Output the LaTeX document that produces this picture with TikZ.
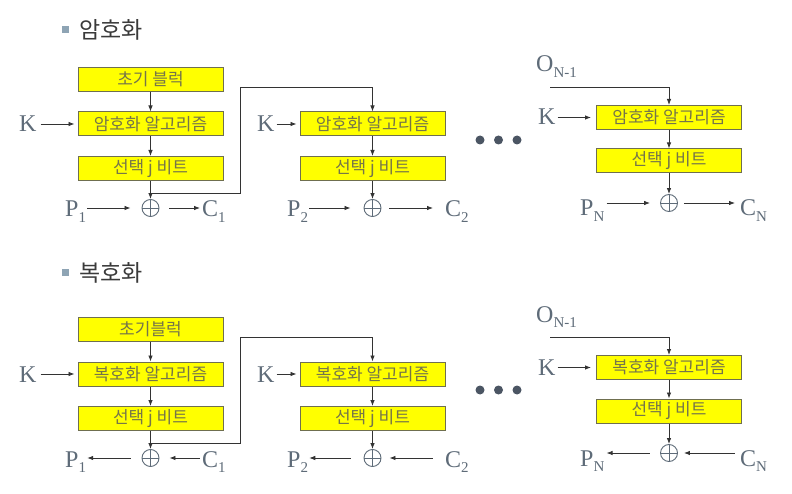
\documentclass[tikz,border=0pt]{standalone}
\usepackage{fontspec}
\setmainfont{Liberation Serif}
\newfontfamily\kofont{Noto Sans CJK KR}
\usetikzlibrary{arrows.meta, positioning, calc}

\newcommand\lowidx[1]{\raisebox{-0.5ex}{\fontsize{15}{15}\selectfont #1}}

\begin{document}
\begin{tikzpicture}[
    x=1pt, y=-1pt,
    every node/.style={inner sep=0pt},
    blk/.style={draw=boxline, fill=boxfill, line width=1pt,
        minimum width=145pt, minimum height=24pt,
        font=\kofont\fontsize{17}{17}\selectfont, text=boxtext},
    lbl/.style={font=\fontsize{24}{24}\selectfont, text=lettercolor, anchor=base west},
    xorn/.style={circle, draw=lettercolor, line width=0.9pt, minimum size=17pt,
        path picture={
            \draw[lettercolor, line width=0.9pt]
                (path picture bounding box.north) -- (path picture bounding box.south)
                (path picture bounding box.west) -- (path picture bounding box.east);
        }},
    arr/.style={-{Latex[length=6pt, width=4.5pt]}, line width=0.8pt, draw=arrowcolor},
    rarr/.style={{Latex[length=6pt, width=4.5pt]}-, line width=0.8pt, draw=arrowcolor},
    hd/.style={font=\kofont\fontsize{23}{23}\selectfont, text=headcolor, anchor=west},
    sq/.style={fill=bulletcolor, minimum size=7pt},
    dotn/.style={circle, fill=dotcolor, minimum size=9pt},
]

\definecolor{boxfill}{HTML}{FFFF00}   % the boxes
\definecolor{boxline}{HTML}{6F6F4F}
\definecolor{boxtext}{HTML}{75754A}
\definecolor{lettercolor}{HTML}{5E6B78}
\definecolor{arrowcolor}{HTML}{333333}
\definecolor{headcolor}{HTML}{3A3A3A}
\definecolor{bulletcolor}{HTML}{8EA4B4}
\definecolor{dotcolor}{HTML}{4B5563}

\useasboundingbox (0,0) rectangle (792,494);

% ================================================================
%   upper half: encryption, lower half: decryption (250 lower)
%   column 1 at x=150.5, column 2 at x=372.5, column N at x=669
% ================================================================

\foreach \s/\dy/\hy/\head/\init/\alg/\dir in {e/0/30/암호화/초기 블럭/암호화 알고리즘/arr,
                                             d/250/273/복호화/초기블럭/복호화 알고리즘/rarr} {

    % ---------------------------------------------------------------- heading
    \node[sq] (sq\s) at (65, \hy) {};
    \node[hd] (hd\s) at (79, \hy) {\head};

    % ---------------------------------------------------------------- column 1
    \node[blk] (init\s) at (150.5, 79.5+\dy) {\init};
    \node[blk] (alga\s) at (150.5, 124+\dy) {\alg};
    \node[blk] (sela\s) at (150.5, 168.5+\dy) {선택 j 비트};
    \node[xorn] (xa\s) at (150.5, 208+\dy) {};
    \node[lbl] (ka\s) at (19, 132+\dy) {K};
    \node[lbl] (pa\s) at (65, 217+\dy) {P\lowidx{1}};
    \node[lbl] (ca\s) at (202, 217+\dy) {C\lowidx{1}};

    \draw[arr] (init\s) -- (alga\s);
    \draw[arr] (alga\s) -- (sela\s);
    \draw[arr] (sela\s) -- (xa\s);
    \draw[arr, shorten <=4pt, shorten >=3pt] (ka\s.east |- alga\s) -- (alga\s.west);
    \draw[\dir, shorten <=1pt, shorten >=11pt] (pa\s.east |- xa\s) -- (xa\s.west);
    \draw[\dir, shorten <=10pt, shorten >=2pt] (xa\s.east) -- (ca\s.west |- xa\s);

    % ---------------------------------------------------------------- column 2
    \node[blk] (algb\s) at (372.5, 124+\dy) {\alg};
    \node[blk] (selb\s) at (372.5, 168.5+\dy) {선택 j 비트};
    \node[xorn] (xb\s) at (372.5, 208+\dy) {};
    \node[lbl] (kb\s) at (257, 132+\dy) {K};
    \node[lbl] (pb\s) at (287, 217+\dy) {P\lowidx{2}};
    \node[lbl] (cb\s) at (445, 217+\dy) {C\lowidx{2}};

    \draw[arr] (algb\s) -- (selb\s);
    \draw[arr] (selb\s) -- (xb\s);
    \draw[arr, shorten <=2pt, shorten >=3pt] (kb\s.east |- algb\s) -- (algb\s.west);
    \draw[\dir, shorten <=1pt, shorten >=13pt] (pb\s.east |- xb\s) -- (xb\s.west);
    \draw[\dir, shorten <=8pt, shorten >=12pt] (xb\s.east) -- (cb\s.west |- xb\s);

    % feedback from column 1 into column 2
    \coordinate (tap\s) at (150.5, 193+\dy);
    \coordinate (turn\s) at (240, 87+\dy);
    \draw[arr] (tap\s) -| (turn\s) -| (algb\s.north);

    % ---------------------------------------------------------------- dots
    \foreach \i in {0,1,2} {
        \node[dotn] (dot\s\i) at (480+18.5*\i, 140+\dy) {};
    }

    % ---------------------------------------------------------------- column N
    \node[blk] (algn\s) at (669, 117.5+\dy) {\alg};
    \node[blk] (seln\s) at (669, 161+\dy) {선택 j 비트};
    \node[xorn] (xn\s) at (669, 203+\dy) {};
    \node[lbl] (kn\s) at (538, 125+\dy) {K};
    \node[lbl] (on\s) at (536, 72+\dy) {O\lowidx{N-1}};
    \node[lbl] (pn\s) at (580, 216+\dy) {P\lowidx{N}};
    \node[lbl] (cn\s) at (740, 216+\dy) {C\lowidx{N}};

    \draw[arr] (algn\s) -- (seln\s);
    \draw[arr] (seln\s) -- (xn\s);
    \draw[arr, shorten <=2pt, shorten >=5pt] (kn\s.east |- algn\s) -- (algn\s.west);
    \draw[\dir, shorten <=2pt, shorten >=10pt] (pn\s.east |- xn\s) -- (xn\s.west);
    \draw[\dir, shorten <=6pt, shorten >=5pt] (xn\s.east) -- (cn\s.west |- xn\s);

    \coordinate (oin\s) at (550, 87+\dy);
    \draw[arr] (oin\s) -| (algn\s.north);
}

\end{tikzpicture}
\end{document}
